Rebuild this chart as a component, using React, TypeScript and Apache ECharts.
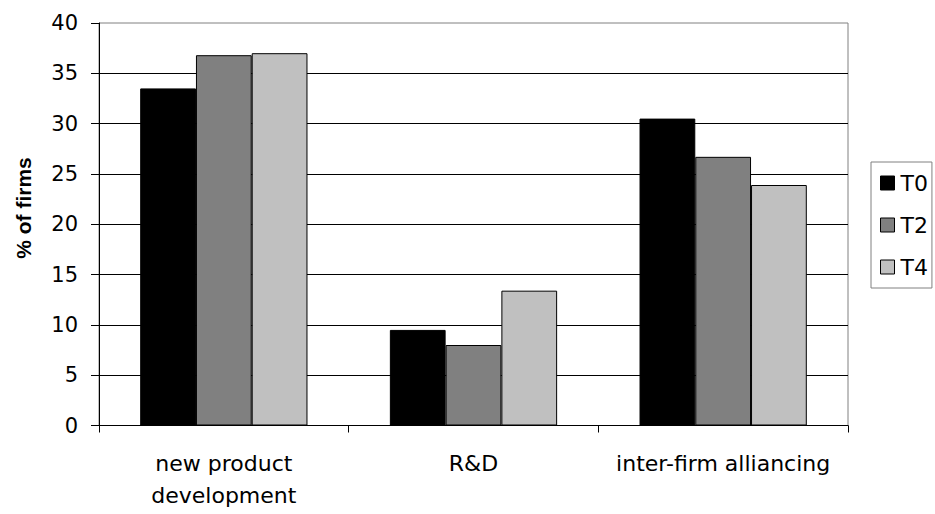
import React, { useEffect, useRef } from "react";
import * as echarts from "echarts";

const categories = ["new product\ndevelopment", "R&D", "inter-firm alliancing"];
const seriesNames = ["T0", "T2", "T4"];
const t0 = [33.5, 9.5, 30.5];
const t2 = [36.8, 8.0, 26.7];
const t4 = [37.0, 13.4, 23.9];
const yTitle = "% of firms";

const colors = ["#000000", "#808080", "#c0c0c0"];

export default function App() {
  const ref = useRef<HTMLDivElement>(null);
  useEffect(() => {
    if (!ref.current) return;
    const chart = echarts.init(ref.current, null, { renderer: "svg" });
    const values = [t0, t2, t4];
    const font = "DejaVu Sans";
    chart.setOption({
      animation: false,
      backgroundColor: "#ffffff",
      grid: {
        left: 99,
        right: 87,
        top: 23,
        bottom: 88.5,
        show: true,
        borderColor: "#808080",
        borderWidth: 1,
        backgroundColor: "transparent",
      },
      legend: {
        orient: "vertical",
        left: 871,
        top: 162,
        padding: [10, 4, 10, 9],
        itemWidth: 14,
        itemHeight: 14,
        itemGap: 20,
        borderColor: "#808080",
        borderWidth: 1,
        icon: "rect",
        itemStyle: { borderColor: "#000", borderWidth: 1 },
        textStyle: { fontFamily: font, fontSize: 22, color: "#000", lineHeight: 22, padding: [0, 0, 0, 1] },
        data: seriesNames,
      },
      xAxis: {
        type: "category",
        data: categories,
        axisLine: { lineStyle: { color: "#000", width: 1 } },
        axisTick: { show: true, length: 7, lineStyle: { color: "#000" } },
        axisLabel: {
          fontFamily: font,
          fontSize: 22,
          color: "#000",
          lineHeight: 32,
          margin: 22,
          interval: 0,
        },
      },
      yAxis: {
        type: "value",
        min: 0,
        max: 40,
        interval: 5,
        axisLine: { show: true, lineStyle: { color: "#000", width: 1 } },
        axisTick: { show: true, length: 8, lineStyle: { color: "#000" } },
        axisLabel: { fontFamily: font, fontSize: 21, color: "#000", margin: 21 },
        splitLine: { show: true, showMaxLine: false, lineStyle: { color: "#000", width: 1 } },
      },
      graphic: [
        {
          type: "text",
          x: 23,
          y: 208,
          rotation: Math.PI / 2,
          style: {
            text: yTitle,
            fontFamily: "Liberation Sans",
            fontWeight: "bold",
            fontSize: 21,
            fill: "#000",
            align: "center",
            verticalAlign: "middle",
          },
        },
      ],
      series: seriesNames.map((name, i) => ({
        name,
        type: "bar",
        data: values[i],
        barGap: "0%",
        barCategoryGap: "33%",
        itemStyle: { color: colors[i], borderColor: "#000", borderWidth: 1 },
      })),
    });
    return () => chart.dispose();
  }, []);
  return (
    <div
      ref={ref}
      style={{ position: "fixed", left: 0, top: 0, width: 935, height: 514, background: "#fff" }}
    />
  );
}
